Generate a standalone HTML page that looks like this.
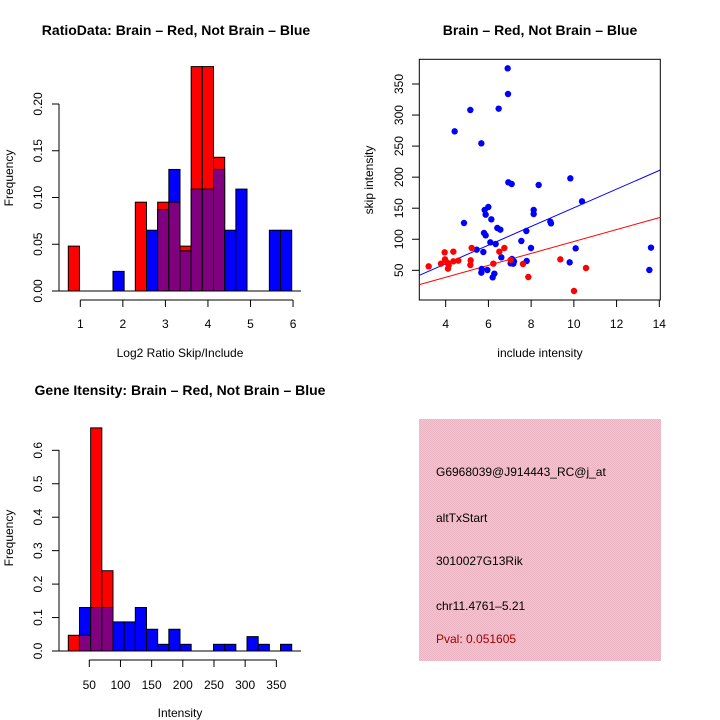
<!DOCTYPE html>
<html><head><meta charset="utf-8"><style>body{margin:0;background:#fff}svg{display:block}text{font-family:"Liberation Sans",sans-serif}</style></head>
<body>
<svg id="s" width="720" height="720" xmlns="http://www.w3.org/2000/svg">
<defs><pattern id="pk" width="2" height="2" patternUnits="userSpaceOnUse"><rect width="2" height="2" fill="#f4c4cf"/><rect width="1" height="1" fill="#eab4c2"/><rect x="1" y="1" width="1" height="1" fill="#eab4c2"/></pattern></defs>
<g font-size="14" font-weight="bold" text-anchor="middle">
<text x="176" y="35">RatioData: Brain – Red, Not Brain – Blue</text>
<text x="540" y="35">Brain – Red, Not Brain – Blue</text>
<text x="180" y="395">Gene Itensity: Brain – Red, Not Brain – Blue</text>
</g>
<g font-size="12" text-anchor="middle">
<text x="180" y="357">Log2 Ratio Skip/Include</text>
<text x="540" y="357">include intensity</text>
<text x="180" y="717">Intensity</text>
<text transform="translate(13,178) rotate(-90)">Frequency</text>
<text transform="translate(13,538) rotate(-90)">Frequency</text>
<text transform="translate(373,180) rotate(-90)">skip intensity</text>
</g>
<g id="g"></g>
<rect x="419" y="419" width="242" height="242" fill="url(#pk)"/>
<g font-size="12">
<text x="436" y="476">G6968039@J914443_RC@j_at</text>
<text x="436" y="522">altTxStart</text>
<text x="436" y="565">3010027G13Rik</text>
<text x="436" y="610">chr11.4761–5.21</text>
<text x="436" y="643" fill="#a00000">Pval: 0.051605</text>
</g>
</svg>
<script>
var g=document.getElementById('g'),h='';
function L(a,b,c,d,col,w){h+='<line x1="'+a+'" y1="'+b+'" x2="'+c+'" y2="'+d+'" stroke="'+(col||'#000')+'" stroke-width="'+(w||1)+'"/>';}
function T(x,y,t,rot){h+=rot?'<text font-size="12" text-anchor="middle" transform="translate('+x+','+y+') rotate(-90)">'+t+'</text>':'<text font-size="12" text-anchor="middle" x="'+x+'" y="'+y+'">'+t+'</text>';}
function R(x,y,w,hh,c){h+='<rect x="'+x+'" y="'+y+'" width="'+w+'" height="'+hh+'" fill="'+c+'" stroke="#000" stroke-width="1"/>';}
function hist(x0,bw,base,sc,red,blue){
 for(var i=0;i<red.length;i++){var r=red[i],b=blue[i],x=x0+i*bw;
  if(r>0&&r>=b)R(x,base-r*sc,bw,r*sc,'#f00');
  if(b>0&&b>r)R(x,base-b*sc,bw,b*sc,'#00f');
  var m=Math.min(r,b);if(m>0)R(x,base-m*sc,bw,m*sc,'#800080');}
}
// plot 1
hist(68.3,11.17,291,935,
[.048,0,0,0,0,0,.095,0,.095,.095,.048,.24,.24,.143,0,0,0,0,0,0],
[0,0,0,0,.021,0,0,.065,.087,.13,.043,.109,.109,.13,.065,.109,0,0,.065,.065]);
L(59,291,59,104);
[0,.05,.1,.15,.2].forEach(function(v,i){var y=291-v*935;L(52,y,59,y);T(42,y,['0.00','0.05','0.10','0.15','0.20'][i],1);});
L(80.3,300,293,300);
for(var k=1;k<=6;k++){var x=80.3+(k-1)*42.55;L(x,300,x,307);T(x,328,k);}
L(59,291,301,291);
// plot 2
hist(68.3,11.17,651,334.5,
[.047,.047,.667,.24,0,0,0,0,0,0,0,0,0,0,0,0,0,0,0,0],
[0,.13,.13,.13,.087,.087,.13,.065,.02,.065,.02,0,0,.02,.02,0,.043,.02,0,.02]);
L(59,651,59,450);
for(var k=0;k<=6;k++){var y=651-k*0.1*334.5;L(52,y,59,y);T(42,y,'0.'+k,1);}
L(89.3,660,276.3,660);
for(var k=0;k<7;k++){var x=89.3+k*31.17;L(x,660,x,667);T(x,689,50+50*k);}
L(59,651,301,651);
// plot 3
h+='<rect x="419.3" y="59.3" width="241" height="240.7" fill="none" stroke="#000"/>';
for(var k=0;k<6;k++){var x=445.7+k*42.72;L(x,300,x,307);T(x,328,4+2*k);}
for(var k=0;k<7;k++){var y=270.3-k*31.05;L(412,y,419.3,y);T(403,y,50+50*k,1);}
function P(zx,zy){return [360+zx/3,50+zy/3];}
var bl=[[443,55],[444,132],[331,180],[416,176],[284,244],[364,280],[445,397],[455,402],[536,405],[631,385],[666,454],[312,519],[374,480],[377,494],[385,471],[394,508],[412,534],[421,539],[372,549],[377,556],[391,577],[407,582],[350,599],[370,606],[484,573],[499,543],[521,480],[521,492],[571,515],[573,520],[513,594],[647,595],[873,593],[868,660],[629,637],[500,633],[424,622],[456,627],[460,641],[462,634],[365,657],[382,660],[364,668],[403,671],[398,682],[452,640]];
var rd=[[206,649],[243,641],[254,607],[280,605],[255,628],[266,646],[264,656],[280,634],[295,632],[335,594],[332,631],[331,645],[400,641],[418,605],[433,594],[452,630],[489,642],[505,681],[601,628],[678,654],[642,723],[262,638]];
var a=P(178,676),b=P(901,360);L(a[0],a[1],b[0],b[1],'#00f');
a=P(178,704);b=P(901,502);L(a[0],a[1],b[0],b[1],'#f00');
bl.forEach(function(p){var q=P(p[0],p[1]);h+='<circle cx="'+q[0]+'" cy="'+q[1]+'" r="3.2" fill="#00f"/>';});
rd.forEach(function(p){var q=P(p[0],p[1]);h+='<circle cx="'+q[0]+'" cy="'+q[1]+'" r="3.2" fill="#f00"/>';});
g.innerHTML=h;
</script>
</body></html>
